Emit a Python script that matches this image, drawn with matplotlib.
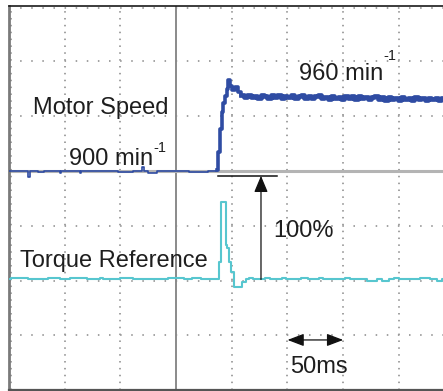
import matplotlib
matplotlib.use("Agg")
import matplotlib.pyplot as plt
import numpy as np

plt.rcParams['font.family'] = ['Liberation Sans', 'DejaVu Sans']
plt.rcParams['lines.scale_dashes'] = False

# time base in ms (8 divisions of 50 ms)
# motor speed before the step (min^-1)
speed_pre_t = [0, 17, 18.5, 26, 31, 45.5, 47, 63.5, 65, 98, 111, 119, 121, 125, 133, 162, 178.5, 186.5]
speed_pre_v = [900, 895.3, 900, 899.2, 900, 899, 900, 899, 900, 899.3, 900, 903.5, 900, 898.8, 900, 899.2, 900, 900]

# rise and overshoot after the reference step
speed_rise_t = [186.5, 188, 189.4, 191, 192.4, 193.9, 195.5, 196.8, 198.2, 200, 203, 206, 208]
speed_rise_v = [901, 915.6, 935, 948.5, 956, 962, 968, 975, 970, 967, 969, 965, 963]

# settled speed, one sample every 3 ms from 208 ms
speed_hold_v = [962.8, 960.9, 963.1, 961.2, 962.4, 960.3, 963.0, 961.6, 960.5, 962.7,
                961.0, 963.2, 960.6, 962.1, 960.9, 962.9, 960.4, 961.8, 963.0, 960.7,
                962.3, 960.2, 961.9, 962.8, 960.1, 961.5, 959.8, 962.4, 960.6, 961.3,
                959.7, 962.0, 960.4, 961.6, 959.5, 961.9, 960.0, 961.2, 959.4, 960.8,
                961.7, 959.3, 960.9, 959.1, 961.3, 959.8, 960.5, 958.9, 961.0, 959.6,
                960.7, 958.8, 960.9, 959.2, 960.3, 958.7, 960.6, 959.5, 960.1, 958.9,
                960.4, 959.0, 960.2, 959.4, 959.6]
speed_hold_t = 208 + 3 * np.arange(len(speed_hold_v))

# torque reference (%)
torque_t = [0, 2, 17, 35, 46, 55, 70, 82, 84, 100, 111, 143, 157, 164, 172, 188.8, 190, 194.5,
            196, 197.5, 199.5, 201.8, 208.8, 212.4, 215, 219, 230, 234, 245, 249, 262, 268,
            278, 282, 302, 306, 321, 330, 335, 341, 346, 350, 369, 378, 384, 389, 396, 400]
torque_v = [0, 1, 0, 1, 0, 1, 0, 1, 0, 1, 0, 1, 0, 1, 0, 17, 75, 33,
            30, 17, 7, -7, -2, 0, 1.8, 0, 1.8, 0, 1.5, 0, 1.5, 0,
            1.5, 0, 1.5, 0, -1.5, 0, -1.5, 0, 1.5, 0, 1.8, 0, -1.5, 0, 1.5, 1.5]

W, H = 443, 391
fig = plt.figure(figsize=(W / 100, H / 100), dpi=100)
rect = [9 / W, 1 - 390.3 / H, 445.6 / W, 384.3 / H]

# graticule axes: 8 x 7 divisions
ax = fig.add_axes(rect)
ax.set_xlim(0, 400)
ax.set_ylim(0, 7)
ax.set_xticks([])
ax.set_yticks([])
ax.spines['right'].set_visible(False)
ax.spines['left'].set_color('#7a7a7a')
ax.spines['left'].set_linewidth(2)
ax.spines['top'].set_color('#1a1a1a')
ax.spines['top'].set_linewidth(1.2)
ax.spines['bottom'].set_color('#555555')
ax.spines['bottom'].set_linewidth(1.6)

grid_c = '#9a9a9a'
for k in [1, 2, 3, 5, 6]:
    ax.axhline(k, color=grid_c, lw=1.3, ls=(0, (1.1, 6.9)))
ax.axhline(6.96, color=grid_c, lw=1.3, ls=(0, (1.1, 6.9)))
for k in [50, 100, 200, 250, 300, 350]:
    ax.axvline(k, color=grid_c, lw=1.3, ls=(0, (1.1, 3.84)))
ax.axvline(2, color=grid_c, lw=1.3, ls=(0, (1.1, 3.84)))
ax.axvline(150, color='#8a8a8a', lw=1.4)
ax.axhline(4, color='#b4b4b4', lw=2.2)

# speed axes
ax_s = fig.add_axes(rect, frameon=False)
ax_s.set_xlim(0, 400)
ax_s.set_ylim(720, 1036)
ax_s.axis('off')
blue = '#2f4ca3'
ax_s.plot(speed_pre_t, speed_pre_v, drawstyle='steps-post', color=blue, lw=1.2)
ax_s.plot(speed_rise_t, speed_rise_v, drawstyle='steps-post', color=blue, lw=2.6)
ax_s.plot(speed_hold_t, speed_hold_v, drawstyle='steps-post', color=blue, lw=3.4)

# torque axes
ax_t = fig.add_axes(rect, frameon=False)
ax_t.set_xlim(0, 400)
ax_t.set_ylim(-107, 264)
ax_t.axis('off')
ax_t.plot(torque_t, torque_v, drawstyle='steps-post', color='#57c6cf', lw=1.5)

ax_t.plot([187.6, 240.6], [100, 100], color='#111111', lw=1.1)
ax_t.annotate('', xy=(226.2, 100), xytext=(226.2, 0),
              arrowprops=dict(arrowstyle='-|>,head_length=1.0,head_width=0.42',
                              mutation_scale=10, lw=0.9, color='#111111',
                              shrinkA=0, shrinkB=0))
ax_t.annotate('', xy=(300, -58.4), xytext=(250, -58.4),
              arrowprops=dict(arrowstyle='<|-|>,head_length=1.0,head_width=0.38',
                              mutation_scale=10, lw=0.9, color='#111111',
                              shrinkA=0, shrinkB=0))


def label(x, y, s, size=17):
    fig.text(x / W, 1 - y / H, s, fontsize=size, color='#1e1e1e',
             ha='left', va='baseline')


label(33, 114, 'Motor Speed')
label(69, 165, '900 min')
label(153, 152, '-1', size=10.5)
label(299, 80, '960 min')
label(383, 60, '-1', size=10.5)
label(20, 267, 'Torque Reference')
label(273, 237, '100%')
label(290, 373, '50ms')

fig.savefig('out.png', dpi=100)
